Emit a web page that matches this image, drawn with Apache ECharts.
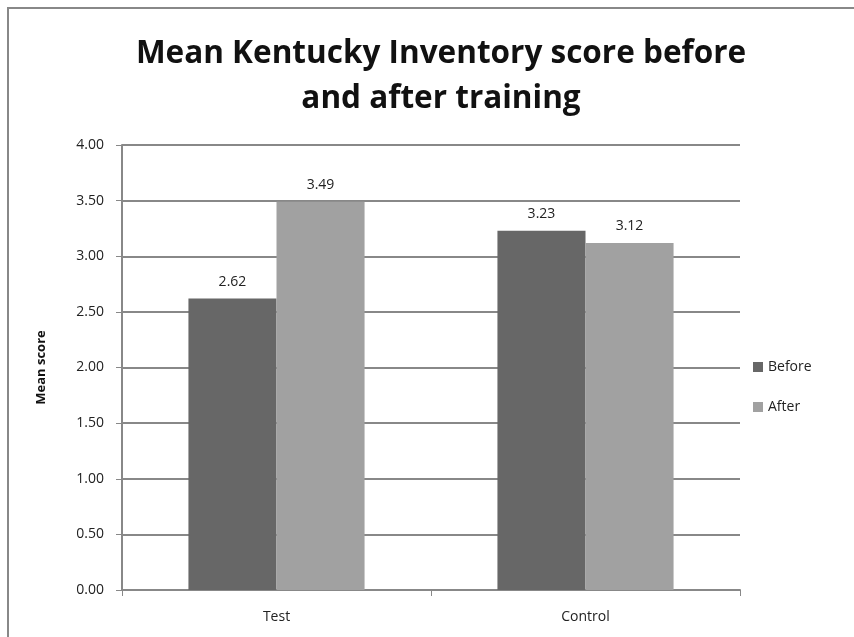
<!DOCTYPE html>
<html>
<head>
<meta charset="utf-8">
<script src="https://cdn.jsdelivr.net/npm/echarts@6/dist/echarts.min.js"></script>
<style>
  html, body { margin: 0; padding: 0; background: #fff; }
  #chart { width: 854px; height: 637px; }
</style>
</head>
<body>
<div id="chart"></div>
<script>
var categories = ['Test', 'Control'];
var beforeValues = [2.62, 3.23];
var afterValues = [3.49, 3.12];

var chart = echarts.init(document.getElementById('chart'));
chart.setOption({
  animation: false,
  backgroundColor: '#fff',
  graphic: [{
    type: 'rect',
    shape: { x: 8, y: 8, width: 900, height: 700 },
    style: { fill: 'none', stroke: '#888', lineWidth: 2 },
    silent: true
  }],
  title: {
    text: 'Mean Kentucky Inventory score before\nand after training',
    left: 436,
    textAlign: 'center',
    top: 27,
    textStyle: {
      fontFamily: 'Open Sans',
      fontWeight: 'bold',
      fontSize: 31.5,
      lineHeight: 45,
      color: '#111'
    }
  },
  legend: {
    orient: 'vertical',
    left: 748,
    top: 355,
    itemWidth: 10,
    itemHeight: 10,
    itemGap: 26,
    icon: 'rect',
    data: ['Before', 'After'],
    textStyle: { fontFamily: 'Open Sans', fontSize: 14, color: '#222' }
  },
  grid: { left: 122, right: 114, top: 145, bottom: 47 },
  xAxis: {
    type: 'category',
    data: categories,
    axisLine: { lineStyle: { color: '#888', width: 2 } },
    axisTick: { show: true, length: 6, lineStyle: { color: '#888' } },
    axisLabel: { fontFamily: 'Open Sans', fontSize: 14, color: '#222', margin: 20 }
  },
  yAxis: {
    type: 'value',
    min: 0,
    max: 4,
    interval: 0.5,
    name: 'Mean score',
    nameLocation: 'middle',
    nameGap: 74,
    nameTextStyle: { fontFamily: 'Open Sans', fontWeight: 'bold', fontSize: 13, color: '#111' },
    axisLine: { show: true, lineStyle: { color: '#888', width: 2 } },
    axisTick: { show: true, length: 6, inside: false, lineStyle: { color: '#888' } },
    axisLabel: {
      fontFamily: 'Open Sans', fontSize: 14, color: '#222', margin: 18,
      formatter: function (v) { return v.toFixed(2); }
    },
    splitLine: { lineStyle: { color: '#888', width: 2 } }
  },
  series: [{
    name: 'Before',
    type: 'bar',
    data: beforeValues,
    barWidth: '28.5%',
    barGap: '0%',
    itemStyle: { color: '#676767' },
    label: {
      show: true, position: 'top', distance: 10,
      fontFamily: 'Open Sans', fontSize: 14, color: '#222',
      formatter: function (p) { return p.value.toFixed(2); }
    }
  }, {
    name: 'After',
    type: 'bar',
    data: afterValues,
    barWidth: '28.5%',
    itemStyle: { color: '#a1a1a1' },
    label: {
      show: true, position: 'top', distance: 10,
      fontFamily: 'Open Sans', fontSize: 14, color: '#222',
      formatter: function (p) { return p.value.toFixed(2); }
    }
  }]
});
</script>
</body>
</html>
